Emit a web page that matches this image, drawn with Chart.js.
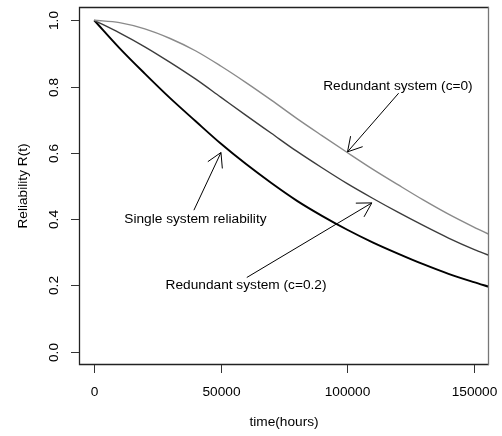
<!DOCTYPE html>
<html>
<head>
<meta charset="utf-8">
<script src="https://cdn.jsdelivr.net/npm/chart.js@4.4.1/dist/chart.umd.min.js"></script>
<style>
  html, body { margin: 0; padding: 0; background: #fff; }
  #wrap { width: 502px; height: 436px; }
</style>
</head>
<body>
<div id="wrap"><canvas id="c" width="502" height="436"></canvas></div>
<script>
// time (hours)
const hours = [0, 10000, 20000, 30000, 40000, 50000, 60000, 70000, 80000, 90000,
               100000, 110000, 120000, 130000, 140000, 150000, 156000];
// Single system reliability
const single = [1.000, 0.916, 0.839, 0.765, 0.696, 0.628, 0.566, 0.509, 0.456, 0.410,
                0.368, 0.330, 0.296, 0.264, 0.235, 0.210, 0.196];
// Redundant system (c=0)
const redundantC0 = [1.000, 0.993, 0.974, 0.945, 0.908, 0.862, 0.812, 0.759, 0.704, 0.652,
                     0.601, 0.551, 0.504, 0.458, 0.415, 0.376, 0.354];
// Redundant system (c=0.2)
const redundantC02 = [1.000, 0.962, 0.920, 0.873, 0.823, 0.768, 0.713, 0.659, 0.605, 0.555,
                      0.507, 0.463, 0.421, 0.381, 0.343, 0.309, 0.291];

const xTicks = [0, 50000, 100000, 150000];
const xTickLabels = ["0", "50000", "100000", "150000"];
const yTicks = [0, 0.2, 0.4, 0.6, 0.8, 1.0];
const yTickLabels = ["0.0", "0.2", "0.4", "0.6", "0.8", "1.0"];

const xTitle = "time(hours)";
const yTitle = "Reliability R(t)";

// annotations: [label, x, y]
const labels = [
  ["Redundant system (c=0)", 120000, 0.80],
  ["Single system reliability", 40000, 0.40],
  ["Redundant system (c=0.2)", 60000, 0.20]
];
// arrows: [x0, y0, x1(tip), y1(tip)]
const arrows = [
  [120300, 0.780, 100100, 0.603],
  [39400, 0.427, 50100, 0.601],
  [60300, 0.224, 109700, 0.449]
];

const FONT = '13.7px "Liberation Sans", Arial, Helvetica, sans-serif';

function toXY(ys) { return hours.map((h, i) => ({ x: h, y: ys[i] })); }

const rPlot = {
  id: 'rPlot',
  afterDraw(chart) {
    const ctx = chart.ctx;
    const xs = chart.scales.x, ys = chart.scales.y;
    const a = chart.chartArea;
    ctx.save();
    // box
    ctx.lineWidth = 1.3;
    ctx.strokeStyle = '#222';
    ctx.beginPath();
    ctx.moveTo(a.right, a.top + 0.5);
    ctx.lineTo(a.left + 0.5, a.top + 0.5);
    ctx.lineTo(a.left + 0.5, a.bottom - 0.5);
    ctx.lineTo(a.right, a.bottom - 0.5);
    ctx.stroke();
    ctx.strokeStyle = '#777';
    ctx.beginPath();
    ctx.moveTo(a.right - 0.5, a.top);
    ctx.lineTo(a.right - 0.5, a.bottom);
    ctx.stroke();

    // ticks
    ctx.strokeStyle = '#333';
    ctx.lineWidth = 1;
    ctx.fillStyle = '#000';
    ctx.font = FONT;
    ctx.textAlign = 'center';
    ctx.textBaseline = 'middle';
    xTicks.forEach((v, i) => {
      const px = Math.round(xs.getPixelForValue(v)) + 0.5;
      ctx.beginPath();
      ctx.moveTo(px, a.bottom);
      ctx.lineTo(px, a.bottom + 8);
      ctx.stroke();
      ctx.fillText(xTickLabels[i], px, a.bottom + 27);
    });
    yTicks.forEach((v, i) => {
      const py = Math.round(ys.getPixelForValue(v)) + 0.5;
      ctx.beginPath();
      ctx.moveTo(a.left, py);
      ctx.lineTo(a.left - 8, py);
      ctx.stroke();
      ctx.save();
      ctx.translate(a.left - 25, py);
      ctx.rotate(-Math.PI / 2);
      ctx.fillText(yTickLabels[i], 0, 0);
      ctx.restore();
    });
    // axis titles
    ctx.fillText(xTitle, (a.left + a.right) / 2, a.bottom + 57);
    ctx.save();
    ctx.translate(23, (a.top + a.bottom) / 2);
    ctx.rotate(-Math.PI / 2);
    ctx.fillText(yTitle, 0, 0);
    ctx.restore();

    // text annotations
    labels.forEach(([t, x, y]) => {
      ctx.fillText(t, xs.getPixelForValue(x), ys.getPixelForValue(y));
    });

    // arrows
    ctx.strokeStyle = '#000';
    ctx.lineWidth = 1;
    arrows.forEach(([x0, y0, x1, y1]) => {
      const p0x = xs.getPixelForValue(x0), p0y = ys.getPixelForValue(y0);
      const p1x = xs.getPixelForValue(x1), p1y = ys.getPixelForValue(y1);
      ctx.beginPath();
      ctx.moveTo(p0x, p0y);
      ctx.lineTo(p1x, p1y);
      const ang = Math.atan2(p0y - p1y, p0x - p1x);
      const L = 16, w = Math.PI / 6;
      ctx.moveTo(p1x + L * Math.cos(ang + w), p1y + L * Math.sin(ang + w));
      ctx.lineTo(p1x, p1y);
      ctx.lineTo(p1x + L * Math.cos(ang - w), p1y + L * Math.sin(ang - w));
      ctx.stroke();
    });
    ctx.restore();
  }
};

new Chart(document.getElementById('c'), {
  type: 'line',
  data: {
    datasets: [
      { label: 'Redundant system (c=0)', data: toXY(redundantC0), borderColor: '#8a8a8a', borderWidth: 1.4 },
      { label: 'Redundant system (c=0.2)', data: toXY(redundantC02), borderColor: '#3c3c3c', borderWidth: 1.4 },
      { label: 'Single system reliability', data: toXY(single), borderColor: '#000000', borderWidth: 1.9 }
    ]
  },
  options: {
    responsive: false,
    animation: false,
    devicePixelRatio: 1,
    layout: { padding: { left: 0, top: 7, right: 13, bottom: 0 } },
    elements: {
      point: { radius: 0, hoverRadius: 0 },
      line: { cubicInterpolationMode: 'monotone', fill: false }
    },
    plugins: { legend: { display: false }, tooltip: { enabled: false }, title: { display: false } },
    events: [],
    scales: {
      x: {
        type: 'linear', min: -6000, max: 156000,
        grid: { display: false }, border: { display: false },
        ticks: { display: false },
        afterFit(s) { s.height = 71; }
      },
      y: {
        type: 'linear', min: -0.04, max: 1.04,
        grid: { display: false }, border: { display: false },
        ticks: { display: false },
        afterFit(s) { s.width = 79; }
      }
    }
  },
  plugins: [rPlot]
});
</script>
</body>
</html>
